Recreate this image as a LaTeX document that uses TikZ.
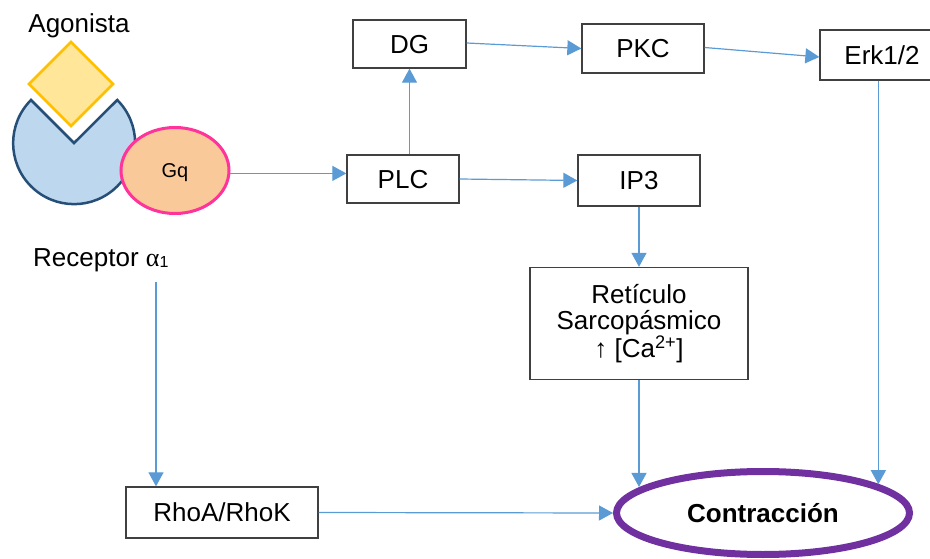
\documentclass[tikz,border=0pt]{standalone}
\usepackage{fontspec}
\setmainfont{Liberation Sans}
\newfontfamily\grkfont{Liberation Serif}
\usetikzlibrary{arrows.meta,shapes.geometric}

\definecolor{arrowblue}{HTML}{5B9BD5}
\definecolor{boxgray}{HTML}{404040}
\definecolor{recfill}{HTML}{BDD7EE}
\definecolor{recline}{HTML}{264F78}
\definecolor{diafill}{HTML}{FFE699}
\definecolor{dialine}{HTML}{FFC000}
\definecolor{gqfill}{HTML}{FAC99A}
\definecolor{gqline}{HTML}{FF3399}
\definecolor{contrpurple}{HTML}{7030A0}

\begin{document}
\begin{tikzpicture}[x=1pt,y=-1pt,
  every node/.style={font=\fontsize{26}{30}\selectfont},
  boxbase/.style={draw=boxgray, line width=1.3pt, fill=white, inner sep=0pt},
  stepbox/.style={boxbase, text height=18.6pt, text depth=0pt},
  arr/.style={draw=arrowblue, line width=1.2pt, -{Triangle[length=14pt,width=15pt]}}]

\useasboundingbox (0,0) rectangle (930,559);
\clip (0,0) rectangle (930,559);

% receptor (pie with a notch) and agonist
\draw[fill=recfill, draw=recline, line width=2.5pt, line join=miter]
  (74,143) -- (31,100) arc[start angle=-135, end angle=-405, radius=61] -- cycle;
\draw[fill=diafill, draw=dialine, line width=2.5pt, line join=miter]
  (71,42) -- (113,84) -- (71,126) -- (29,84) -- cycle;
\node[ellipse, draw=gqline, fill=gqfill, line width=3pt, minimum width=108pt,
  minimum height=86pt, inner sep=0pt, text height=14.3pt, text depth=0pt,
  font=\fontsize{20}{24}\selectfont] (Gq) at (175,170.5) {Gq};

% labels
\node[anchor=base] (ago) at (79,33) {Agonista};
\node[anchor=base west, inner sep=0pt] (rec) at (33,266)
  {Receptor {\grkfont α}\raisebox{-1.5pt}{\fontsize{16}{16}\selectfont 1}};
\coordinate (recTail) at (156,282);

% pathway boxes
\node[stepbox, minimum width=113pt, minimum height=48pt] (DG) at (409.5,44) {DG};
\node[stepbox, minimum width=122pt, minimum height=49pt] (PKC) at (643,48.5) {PKC};
\node[stepbox, minimum width=124pt, minimum height=50pt] (Erk) at (882,55) {Erk1/2};
\node[stepbox, minimum width=112pt, minimum height=48pt] (PLC) at (403,179) {PLC};
\node[stepbox, minimum width=122pt, minimum height=51pt] (IP3) at (639,180.5) {IP3};
\node[boxbase, minimum width=218pt, minimum height=112pt, align=center,
  font=\fontsize{26}{26.5}\selectfont] (Ret) at (639,323.5)
  {Retículo\\Sarcopásmico\\↑ [Ca\textsuperscript{2+}]};
\node[stepbox, minimum width=192pt, minimum height=51pt] (Rho) at (222,512.5) {RhoA/RhoK};
\node[ellipse, draw=contrpurple, line width=7pt, minimum width=293pt,
  minimum height=83pt, inner sep=0pt, text height=18.6pt, text depth=0pt,
  font=\bfseries\fontsize{26}{30}\selectfont] (C) at (763,513) {Contracción};

% connectors
\draw[arr] (Gq.-3) -- (Gq.-3 -| PLC.west);
\draw[arr] (PLC.north -| DG.south) -- (DG.south);
\draw[arr] ([yshift=1pt]DG.east) -- (PKC.west);
\draw[arr] ([yshift=1pt]PKC.east) -- ([yshift=-2pt]Erk.west);
\draw[arr] (PLC.east) -- (IP3.west);
\draw[arr] (IP3.south) -- (IP3.south |- Ret.north);
\draw[arr] (Ret.south) -- (Ret.south |- C.168);
\draw[arr] (Erk.south -| C.14) -- (C.14);
\draw[arr] (recTail) -- (recTail |- Rho.north);
\draw[arr] (Rho.east) -- (C.west);
\end{tikzpicture}
\end{document}
